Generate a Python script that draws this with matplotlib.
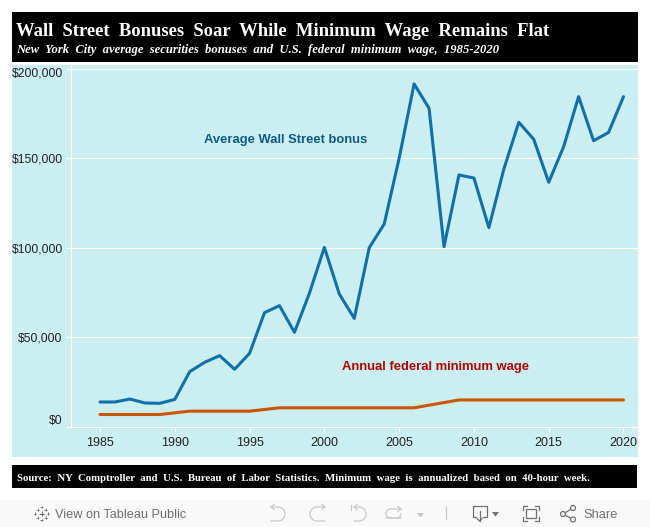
import matplotlib
matplotlib.use("Agg")
import matplotlib.pyplot as plt
import numpy as np
from matplotlib.patches import Rectangle, Circle, Polygon
from matplotlib.transforms import ScaledTranslation

years = list(range(1985, 2021))
bonus = [13950, 13950, 15600, 13400, 13200, 15400, 30900, 36100, 39800, 32200, 41100, 63800,
         67700, 52800, 74600, 100200, 74200, 60600, 100000, 113200, 149900, 191400, 177800, 100600,
         140600, 138900, 111200, 143900, 170000, 160500, 136500, 156400, 184300, 159700, 164300, 184300]
min_wage = [6968, 6968, 6968, 6968, 6968, 7904, 8840, 8840, 8840, 8840, 8840, 9776,
            10712, 10712, 10712, 10712, 10712, 10712, 10712, 10712, 10712, 10712, 12168, 13624,
            15080, 15080, 15080, 15080, 15080, 15080, 15080, 15080, 15080, 15080, 15080, 15080]
x_ticks = [1985, 1990, 1995, 2000, 2005, 2010, 2015, 2020]
y_ticks = [0, 50000, 100000, 150000, 200000]
y_labels = ["$0", "$50,000", "$100,000", "$150,000", "$200,000"]
title = "Wall  Street  Bonuses  Soar  While  Minimum  Wage  Remains  Flat"
subtitle = "New  York  City  average  securities  bonuses  and  U.S.  federal  minimum  wage,  1985-2020"
source = "Source:  NY  Comptroller  and  U.S.  Bureau  of  Labor  Statistics.  Minimum  wage  is  annualized  based  on  40-hour  week."

W, H = 650, 527
PANEL = "#cbeef1"
plt.rcParams["font.family"] = ["Liberation Sans", "DejaVu Sans"]
fig = plt.figure(figsize=(W / 100, H / 100), dpi=100, facecolor="white")

# page furniture in pixel coordinates
bg = fig.add_axes([0, 0, 1, 1])
bg.set_xlim(0, W)
bg.set_ylim(H, 0)
bg.axis("off")
bg.add_patch(Rectangle((12, 65), 626, 392, color=PANEL, lw=0))
bg.add_patch(Rectangle((12, 12), 626, 50, color="black", lw=0))
bg.add_patch(Rectangle((12, 465), 625, 23, color="black", lw=0))
bg.add_patch(Rectangle((0, 500), W, 27, color="#f9f9f9", lw=0))
serif = ["Liberation Serif", "DejaVu Serif"]
bg.text(16, 31.5, title, family=serif, weight="bold", fontsize=13.42, color="white", va="center", ha="left")
bg.text(16, 50.5, subtitle, family=serif, weight="bold", style="italic", fontsize=9.14, color="white", va="center", ha="left")
bg.text(17, 478.5, source, family=serif, weight="bold", fontsize=7.77, color="white", va="center", ha="left")
bg.text(55, 515, "View on Tableau Public", fontsize=9.2, color="#6e6e6e", va="center", ha="left")
bg.text(583, 515, "Share", fontsize=9.3, color="#6e6e6e", va="center", ha="left")

# toolbar icons
ic = "#c8c8c8"
dk = "#707070"


def hook(x0, x1, y0, y1, side):
    """open rounded loop: top stroke, half circle on one side, bottom stroke"""
    r = (y1 - y0) / 2
    a = np.linspace(-np.pi / 2, np.pi / 2, 24)
    if side > 0:
        xs = np.r_[x0, x1 - r + r * np.cos(a), x0]
    else:
        xs = np.r_[x1, x0 + r - r * np.cos(a), x1]
    ys = np.r_[y0, (y0 + y1) / 2 + r * np.sin(a), y1]
    return xs, ys


def plus(cx, cy, arm, lw):
    bg.plot([cx - arm, cx + arm], [cy, cy], color=dk, lw=lw, solid_capstyle="butt")
    bg.plot([cx, cx], [cy - arm, cy + arm], color=dk, lw=lw, solid_capstyle="butt")


plus(41.5, 513.5, 2.6, 0.8)
for dx, dy in [(-6.5, 0), (6.5, 0), (0, -6.5), (0, 6.5)]:
    plus(41.5 + dx, 513.5 + dy, 1.4, 0.7)
for dx, dy in [(-4, -4), (4, -4), (-4, 4), (4, 4)]:
    plus(41.5 + dx, 513.5 + dy, 1.2, 0.6)

bg.plot(*hook(271, 285, 507, 521, 1), color=ic, lw=0.9)
bg.plot([274, 271, 274], [504.5, 507, 509.5], color=ic, lw=0.9)
bg.plot(*hook(310, 325, 507, 521, -1), color=ic, lw=0.9)
bg.plot([322, 325, 322], [504.5, 507, 509.5], color=ic, lw=0.9)
bg.plot(*hook(354, 366, 507, 521, 1), color=ic, lw=0.9)
bg.plot([357, 354, 357], [504.5, 507, 509.5], color=ic, lw=0.9)
bg.plot([351, 351], [505, 510], color=ic, lw=0.9)
bg.plot(*hook(386, 401, 509, 518, -1), color=ic, lw=0.9)
xs, ys = hook(386, 401, 509, 518, 1)
bg.plot(xs[len(xs) // 2:], ys[len(ys) // 2:], color=ic, lw=0.9)
bg.plot([398, 401, 398], [506.5, 509, 511.5], color=ic, lw=0.9)
bg.add_patch(Polygon([[417, 513], [424, 513], [420.5, 517.5]], color=ic, lw=0))
bg.plot([445.5, 445.5], [507, 519], color=ic, lw=0.9)
bg.plot([476, 472.5, 472.5, 487, 487, 483], [517, 517, 506, 506, 517, 517], color=dk, lw=0.9)
bg.plot([479.5, 479.5], [511, 521], color=dk, lw=0.9)
bg.plot([477, 479.5, 482], [518.5, 521, 518.5], color=dk, lw=0.9)
bg.add_patch(Polygon([[492, 512], [499, 512], [495.5, 516.5]], color=dk, lw=0))
for xs, ys in [([523, 523, 527], [510, 506, 506]), ([535, 539, 539], [506, 506, 510]),
               ([539, 539, 535], [517, 521, 521]), ([527, 523, 523], [521, 521, 517])]:
    bg.plot(xs, ys, color=dk, lw=0.9)
bg.add_patch(Rectangle((526, 509), 10, 9, fill=False, ec=dk, lw=0.9))
bg.plot([573, 563, 573], [508, 514, 519.5], color=dk, lw=0.9)
for c in [(573, 508), (563, 514), (573, 519.5)]:
    bg.add_patch(Circle(c, 2.5, fc="#f9f9f9", ec=dk, lw=0.9, zorder=3))

# chart axes: x 70.5..638 px, y 65..427 px
L, R, T, B = 70.5, 638.0, 65.0, 427.0
ax = fig.add_axes([L / W, 1 - B / H, (R - L) / W, (B - T) / H])
ax.patch.set_alpha(0)
px_per_year = 14.957
ax.set_xlim(1985 - (100 - L) / px_per_year, 1985 + (R - 100) / px_per_year)
px_per_dollar = 358.5 / 200000
ax.set_ylim(0, (B - T) / px_per_dollar)
ax.grid(axis="y", color="white", lw=0.75)
ax.set_axisbelow(True)
for s in ("top", "right"):
    ax.spines[s].set_visible(False)
for s in ("left", "bottom"):
    ax.spines[s].set_color("white")
    ax.spines[s].set_linewidth(0.75)
ax.set_xticks(x_ticks)
ax.set_yticks(y_ticks, y_labels)
ax.tick_params(axis="x", colors="white", labelcolor="#222222", labelsize=9.0, length=3.6, width=0.75, pad=3.8)
ax.tick_params(axis="y", colors="white", labelcolor="#222222", labelsize=8.7, length=3.6, width=0.75, pad=2)
for lab, val in zip(ax.get_yticklabels(), y_ticks):
    if val == 200000:
        lab.set_verticalalignment("top")
        lab.set_transform(lab.get_transform() + ScaledTranslation(0, 1.5 / 100, fig.dpi_scale_trans))
    elif val == 0:
        lab.set_verticalalignment("bottom")
ax.plot(years, bonus, color="#1070aa", lw=2.2, solid_joinstyle="round", solid_capstyle="round", clip_on=False)
ax.plot(years, min_wage, color="#cc5500", lw=2.2, solid_joinstyle="round", solid_capstyle="round", clip_on=False)
ax.text(1997.4, 160000, "Average Wall Street bonus", color="#0b5c86", fontsize=9.35, weight="bold", ha="center", va="center")
ax.text(2007.4, 33500, "Annual federal minimum wage", color="#b30000", fontsize=9.35, weight="bold", ha="center", va="center")

fig.savefig("out.png", dpi=100, facecolor="white")
